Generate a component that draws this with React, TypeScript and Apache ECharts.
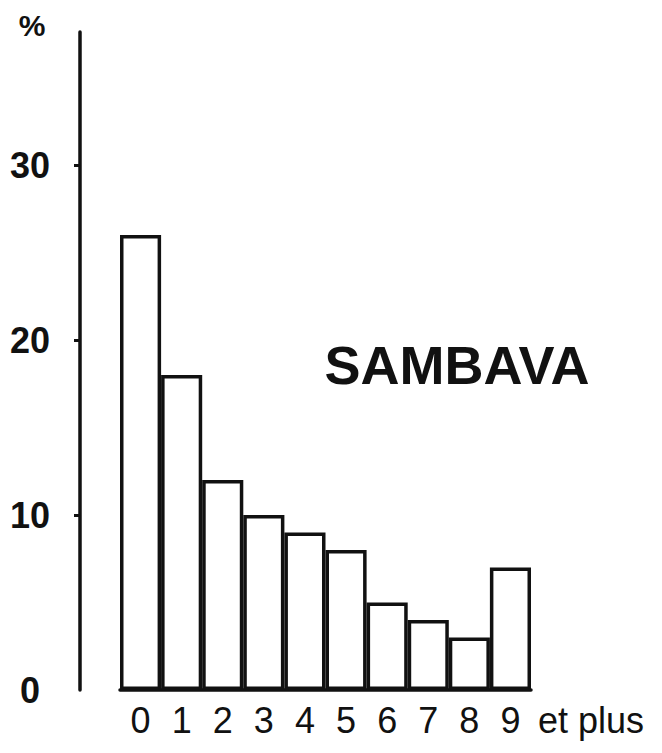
import React, { useEffect, useRef } from "react";
import * as echarts from "echarts";

const categories = ["0", "1", "2", "3", "4", "5", "6", "7", "8", "9"];
const percentages = [26, 18, 12, 10, 9, 8, 5, 4, 3, 7];
const yLabelValues = [0, 10, 20, 30];
const yTickValues = [10, 20, 30];
const chartTitle = "SAMBAVA";
const unitLabel = "%";
const lastCategorySuffix = "et plus";

export default function App() {
  const ref = useRef<HTMLDivElement>(null);
  useEffect(() => {
    if (!ref.current) return;
    const chart = echarts.init(ref.current, undefined, { renderer: "svg" });
    const font = "'Liberation Sans', Arial, sans-serif";
    chart.setOption({
      animation: false,
      backgroundColor: "#ffffff",
      grid: { left: 120, right: 131, top: 32, bottom: 63, containLabel: false },
      xAxis: {
        type: "category",
        data: categories,
        boundaryGap: true,
        axisLine: { show: true, lineStyle: { color: "#111", width: 3.5 } },
        axisTick: { show: false },
        axisLabel: {
          color: "#111",
          fontFamily: font,
          fontSize: 36,
          margin: 12,
        },
      },
      yAxis: {
        type: "value",
        min: 0,
        max: 37.6,
        interval: 10,
        offset: 40,
        splitLine: { show: false },
        axisLine: { show: true, lineStyle: { color: "#111", width: 3.5 } },
        axisTick: {
          show: true,
          length: 6,
          customValues: yTickValues,
          lineStyle: { color: "#111", width: 3 },
        },
        axisLabel: {
          customValues: yLabelValues,
          color: "#111",
          fontFamily: font,
          fontWeight: "bold",
          fontSize: 36,
          align: "center",
          margin: 50,
        },
      },
      graphic: [
        {
          type: "text",
          x: 32,
          y: 25,
          style: {
            text: unitLabel,
            font: `bold 30px ${font}`,
            fill: "#111",
            align: "center",
            verticalAlign: "middle",
          },
        },
        {
          type: "text",
          left: 538,
          top: 702,
          style: {
            text: lastCategorySuffix,
            font: `36px ${font}`,
            fill: "#111",
          },
        },
        {
          type: "text",
          x: 457,
          y: 365,
          style: {
            text: chartTitle,
            font: `bold 54px ${font}`,
            fill: "#111",
            align: "center",
            verticalAlign: "middle",
          },
        },
      ],
      series: [
        {
          type: "bar",
          data: percentages,
          barCategoryGap: 0,
          barWidth: "100%",
          itemStyle: { color: "#ffffff", borderColor: "#111", borderWidth: 3.5 },
        },
      ],
    });
    return () => chart.dispose();
  }, []);
  return <div ref={ref} style={{ width: 662, height: 753, position: "absolute", left: 0, top: 0 }} />;
}
